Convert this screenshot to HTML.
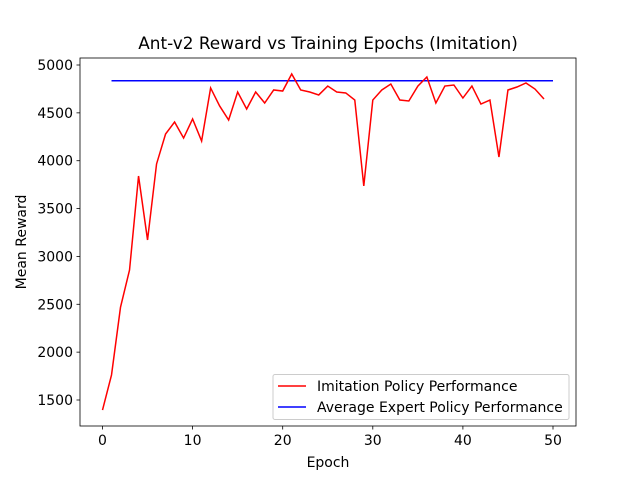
<!DOCTYPE html>
<html><head><meta charset="utf-8"><style>
body{margin:0;background:#fff;}
svg{display:block;font-family:"DejaVu Sans","Liberation Sans",sans-serif;}
</style></head><body>
<svg id="chart" width="640" height="480"></svg>
<script>
const epochs = [0,1,2,3,4,5,6,7,8,9,10,11,12,13,14,15,16,17,18,19,20,21,22,23,24,25,26,27,28,29,30,31,32,33,34,35,36,37,38,39,40,41,42,43,44,45,46,47,48,49];
const imitationRewards = [1395,1761,2470,2858,3840,3172,3966,4279,4404,4237,4436,4206,4760,4572,4425,4718,4540,4718,4603,4739,4728,4906,4739,4718,4687,4780,4718,4708,4634,3736,4634,4739,4801,4634,4624,4780,4875,4603,4780,4791,4655,4780,4592,4634,4039,4739,4770,4812,4749,4645];
const expertX = [1,50];
const expertReward = 4835;
const xTicks = [0,10,20,30,40,50];
const yTicks = [1500,2000,2500,3000,3500,4000,4500,5000];

const svg = document.getElementById('chart');
const NS = 'http://www.w3.org/2000/svg';
const L=80,R=576,T=58,B=426;
const xs = v => 102.5 + (v-0)*(553-102.5)/50;
const ys = v => 400 - (v-1500)*(400-65)/3500;
function mk(tag, attrs, text){const e=document.createElementNS(NS,tag);for(const k in attrs)e.setAttribute(k,attrs[k]);if(text!==undefined)e.textContent=text;svg.appendChild(e);return e;}

let e;
e=mk('rect',{x:L,y:T,width:R-L,height:B-T,fill:'#fff',stroke:'#000','stroke-width':0.8});



xTicks.forEach(t=>{
  e=mk('line',{x1:xs(t),x2:xs(t),y1:B,y2:B+3.5,stroke:'#000','stroke-width':0.8});
  
  
  e=mk('text',{x:xs(t),y:B+19,'text-anchor':'middle','font-size':14},t);
  
  
});
yTicks.forEach(t=>{
  e=mk('line',{x1:L-3.5,x2:L,y1:ys(t),y2:ys(t),stroke:'#000','stroke-width':0.8});
  
  
  e=mk('text',{x:L-7,y:ys(t)+5,'text-anchor':'end','font-size':14},t);
  
  
});

e=mk('line',{x1:xs(expertX[0]),x2:xs(expertX[1]),y1:ys(expertReward),y2:ys(expertReward),stroke:'#0000ff','stroke-width':1.5});



e=mk('polyline',{points:epochs.map((x,i)=>xs(x)+','+ys(imitationRewards[i])).join(' '),fill:'none',stroke:'#ff0000','stroke-width':1.5});



e=mk('text',{x:328,y:49,'text-anchor':'middle','font-size':16.9},'Ant-v2 Reward vs Training Epochs (Imitation)');


e=mk('text',{x:328,y:467,'text-anchor':'middle','font-size':14},'Epoch');


e=mk('text',{x:26,y:242,'text-anchor':'middle','font-size':14,transform:'rotate(-90 26 242)'},'Mean Reward');



e=mk('rect',{x:273,y:374.5,width:296,height:45,rx:2,fill:'#fff',stroke:'#ccc','stroke-width':1});


e=mk('line',{x1:278,x2:306,y1:386,y2:386,stroke:'#ff0000','stroke-width':1.5});


e=mk('text',{x:317,y:391,'font-size':14},'Imitation Policy Performance');


e=mk('line',{x1:278,x2:306,y1:407,y2:407,stroke:'#0000ff','stroke-width':1.5});


e=mk('text',{x:317,y:412,'font-size':14},'Average Expert Policy Performance');


</script>
</body></html>
